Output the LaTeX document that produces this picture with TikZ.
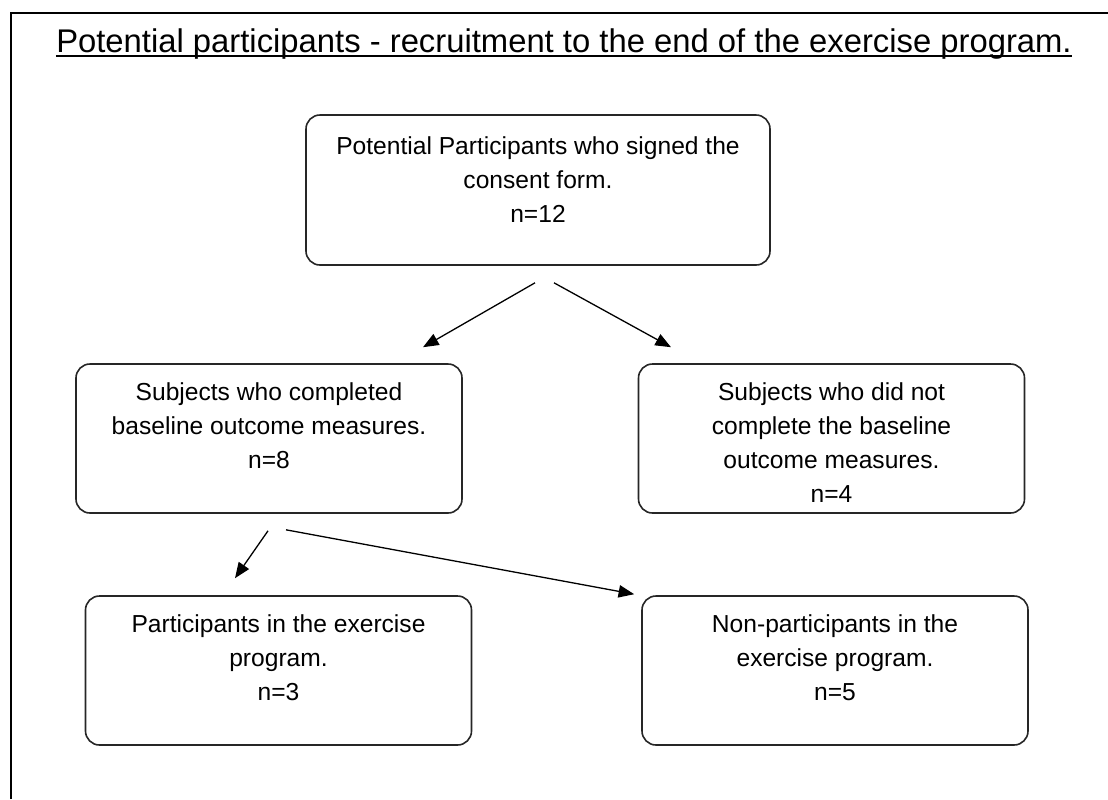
\documentclass[tikz,border=0pt]{standalone}
\usepackage{fontspec}
\setmainfont{Liberation Sans}
\usepackage{tikz}
\usetikzlibrary{positioning}
\usetikzlibrary{calc}
\usetikzlibrary{arrows.meta}
\tikzstyle{box} = [rectangle, rounded corners=7pt, draw=black!85, line width=0.8pt, minimum width=193pt, minimum height=74.5pt]
\tikzstyle{txt} = [inner sep=0pt, align=center, font=\fontsize{12.3}{17}\selectfont]
\tikzstyle{arrow} = [line width=0.65pt, -{Triangle[length=7.8pt, width=6.2pt]}]

\begin{document}
\begin{tikzpicture}[x=0.5pt, y=-0.5pt]
    \useasboundingbox (0,0) rectangle (1108,799);

    % --- frame and title ---
    \draw[line width=1pt] (11,799) -- (11,13) -- (1108,13);

    \node[inner sep=0pt, anchor=base, font=\fontsize{16.4}{20}\selectfont] at (564,52) (title)
        {Potential participants - recruitment to the end of the exercise program.};
    \draw[line width=0.9pt] ([yshift=-2pt]title.base west) -- ([yshift=-2pt]title.base east);

    % consent form box on the top
    \node[box, minimum width=232pt, minimum height=75pt] at (538,190) (consent) {};
    \node[txt, below=11pt of consent.north] (consent_text)
        {Potential Participants who signed the\\consent form.\\n=12};

    % completed box on the left
    \node[box] at (269,438.5) (completed) {};
    \node[txt, below=9.5pt of completed.north] (completed_text)
        {Subjects who completed\\baseline outcome measures.\\n=8};

    % not completed box on the right
    \node[box] at (831.5,438.5) (not_completed) {};
    \node[txt, below=9.5pt of not_completed.north] (not_completed_text)
        {Subjects who did not\\complete the baseline\\outcome measures.\\n=4};

    % participants box on the bottom left
    \node[box] at (278.5,670.5) (participants) {};
    \node[txt, below=9.5pt of participants.north] (participants_text)
        {Participants in the exercise\\program.\\n=3};

    % non-participants box on the bottom right
    \node[box] at (835,670.5) (non_participants) {};
    \node[txt, below=9.5pt of non_participants.north] (non_participants_text)
        {Non-participants in the\\exercise program.\\n=5};

    % arrow ends, a bit off the boxes
    \coordinate (consent_l) at ($(consent.south) + (-3,17)$);
    \coordinate (consent_r) at ($(consent.south) + (16,17)$);
    \coordinate (completed_in) at ($(completed.north) + (154,-16)$);
    \coordinate (not_completed_in) at ($(not_completed.north) + (-160.5,-16)$);
    \coordinate (completed_l) at ($(completed.south) + (-1,17)$);
    \coordinate (completed_r) at ($(completed.south) + (17,16)$);
    \coordinate (participants_in) at ($(participants.north) + (-43.5,-17)$);
    \coordinate (non_participants_in) at ($(non_participants.north west) + (-7,-1)$);

    % arrows from consent to the two middle boxes
    \draw[arrow] (consent_l) -- (completed_in);
    \draw[arrow] (consent_r) -- (not_completed_in);

    % arrows from completed to the two bottom boxes
    \draw[arrow] (completed_l) -- (participants_in);
    \draw[arrow] (completed_r) -- (non_participants_in);

\end{tikzpicture}
\end{document}
